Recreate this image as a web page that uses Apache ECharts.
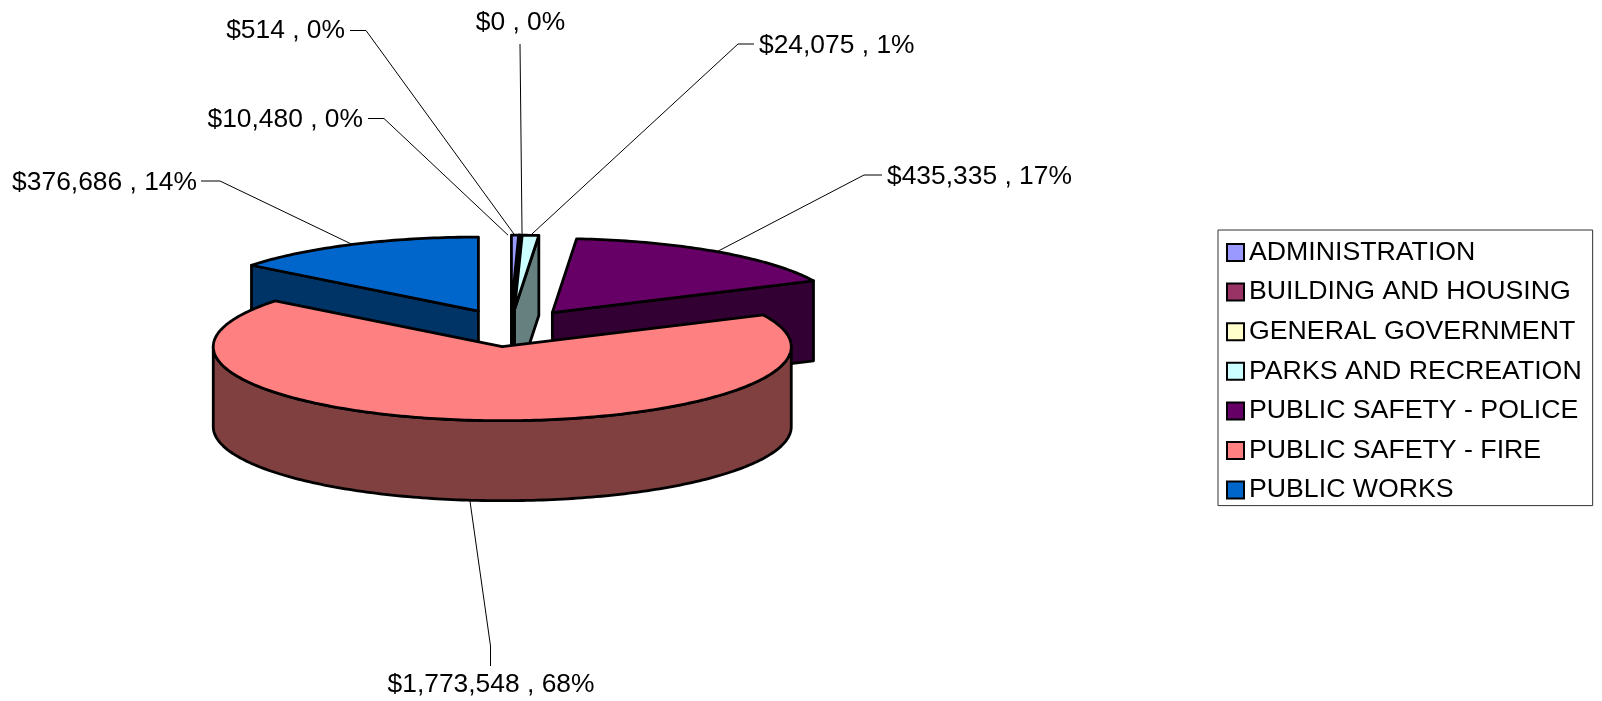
<!DOCTYPE html>
<html>
<head>
<meta charset="utf-8">
<title>Expenditures by department</title>
<script src="https://cdn.jsdelivr.net/npm/echarts@6/dist/echarts.min.js"></script>
<style>
html,body{margin:0;padding:0;background:#fff;}
#main{width:1602px;height:701px;}
</style>
</head>
<body>
<div id="main"></div>
<script type="text/javascript">
// chart data, clockwise from 12 o'clock
var categories = ['ADMINISTRATION','BUILDING AND HOUSING','GENERAL GOVERNMENT','PARKS AND RECREATION','PUBLIC SAFETY - POLICE','PUBLIC SAFETY - FIRE','PUBLIC WORKS'];
var amounts = [10480,514,0,24075,435335,1773548,376686];
var topColors = ['#9999FF','#993366','#FFFFCC','#CCFFFF','#660066','#FF8080','#0066CC'];
var sideColors = ['#4D4D80','#4D1A33','#808066','#668080','#330033','#804040','#003366'];

// pie shape on screen
var cx = 510.5, cy = 328, rx = 289, ry = 74, depth = 80, explode = 73.5;
var fontName = '"Liberation Sans", Arial, sans-serif';

// where each label sits and how its leader line bends (from label towards slice)
var labelLayout = [
    {x:363, y:119.5, align:'right', dx:-7, line:[[368,118.5],[384,118.5]]},
    {x:345, y:30.5, align:'right', dx:-5, line:[[350,30.5],[366,30.5]]},
    {x:520.5, y:22.5, align:'center', dx:2, line:[[520,44]]},
    {x:759, y:45.5, align:'left', dx:0, line:[[754,44],[738,44]]},
    {x:887, y:176.5, align:'left', dx:0, line:[[882,175],[864,175]]},
    {x:491, y:684.5, align:'center', dx:0, line:[[490.5,666],[490.5,646]]},
    {x:197, y:182.5, align:'right', dx:0, line:[[201,181],[220,181]]}
];

var total = 0;
for(var i=0;i<amounts.length;i++){ total += amounts[i]; }

function rad(d){ return d*Math.PI/180; }

// start/end angle of every slice, degrees, going clockwise from 90
var angles = [];
var running = 90;
for(var i=0;i<amounts.length;i++){
    var sweep = amounts[i]/total*360;
    angles.push({a1:running, a2:running-sweep});
    running -= sweep;
}

function rimPoint(tip,deg,drop){
    return [tip[0]+rx*Math.cos(rad(deg)), tip[1]-ry*Math.sin(rad(deg))+drop];
}

function arcPoints(tip,from,to,drop){
    var pts = [];
    var n = Math.max(1,Math.ceil(Math.abs(from-to)));
    for(var k=0;k<=n;k++){
        pts.push(rimPoint(tip,from+(to-from)*k/n,drop));
    }
    return pts;
}

function poly(points,fill){
    return {
        type:'polygon',
        shape:{points:points},
        style:{fill:fill,stroke:'#000',lineWidth:2.8,lineJoin:'round'}
    };
}

function labelText(v){
    return '$'+v.toLocaleString('en-US')+' , '+Math.round(v/total*100)+'%';
}

function renderSlice(index){
    return function(params,api){
        var value = api.value(0);
        var a1 = angles[index].a1, a2 = angles[index].a2;
        var mid = (a1+a2)/2;
        var tip = [cx+explode*Math.cos(rad(mid)), cy-explode*(ry/rx)*Math.sin(rad(mid))];
        var side = sideColors[index];
        var kids = [];

        // radial walls that face the viewer
        if(Math.cos(rad(a1))<0){
            var p = rimPoint(tip,a1,0);
            kids.push(poly([tip,p,[p[0],p[1]+depth],[tip[0],tip[1]+depth]],side));
        }
        if(Math.cos(rad(a2))>0){
            var q = rimPoint(tip,a2,0);
            kids.push(poly([tip,q,[q[0],q[1]+depth],[tip[0],tip[1]+depth]],side));
        }

        // outer wall, only the part on the front half of the ellipse
        var from = Math.min(a1,0), to = Math.max(a2,-180);
        if(from>to){
            var upper = arcPoints(tip,from,to,0);
            var lower = arcPoints(tip,to,from,depth);
            kids.push(poly(upper.concat(lower),side));
        }

        // top face
        kids.push(poly([tip].concat(arcPoints(tip,a1,a2,0)),topColors[index]));

        // leader line and label
        var s = Math.sin(rad(mid));
        var lay = labelLayout[index];
        var anchor = rimPoint(tip,mid,s<0?depth:0);
        anchor[0] += lay.dx;
        kids.push({
            type:'polyline',
            shape:{points:lay.line.concat([anchor])},
            style:{fill:null,stroke:'#000',lineWidth:1}
        });
        kids.push({
            type:'text',
            style:{
                x:lay.x,y:lay.y,text:labelText(value),
                fill:'#000',font:'26.4px '+fontName,
                textAlign:lay.align,textVerticalAlign:'middle'
            }
        });
        return {type:'group',children:kids};
    };
}

// back slices first, fire in front of everything
var drawOrder = [6,4,0,1,2,3,5];
var seriesList = [];
var legendData = [];
for(var i=0;i<drawOrder.length;i++){
    var idx = drawOrder[i];
    seriesList.push({
        name:categories[idx],
        type:'custom',
        coordinateSystem:'none',
        z:i+2,
        silent:true,
        itemStyle:{color:topColors[idx]},
        renderItem:renderSlice(idx),
        data:[[amounts[idx]]]
    });
}
for(var i=0;i<categories.length;i++){
    legendData.push({name:categories[i],icon:'rect',itemStyle:{color:topColors[i],borderColor:'#000',borderWidth:2}});
}

var myChart = echarts.init(document.getElementById('main'),null,{renderer:'canvas'});
var option = {
    backgroundColor:'#fff',
    animation:false,
    legend:{
        orient:'vertical',
        left:1218,
        top:230,
        padding:[9,11,2,8],
        itemWidth:17,
        itemHeight:17,
        itemGap:12.6,
        selectedMode:false,
        backgroundColor:'#fff',
        borderColor:'#333',
        borderWidth:1,
        textStyle:{color:'#000',fontFamily:fontName,fontSize:26.7},
        data:legendData
    },
    series:seriesList
};
myChart.setOption(option);
</script>
</body>
</html>
